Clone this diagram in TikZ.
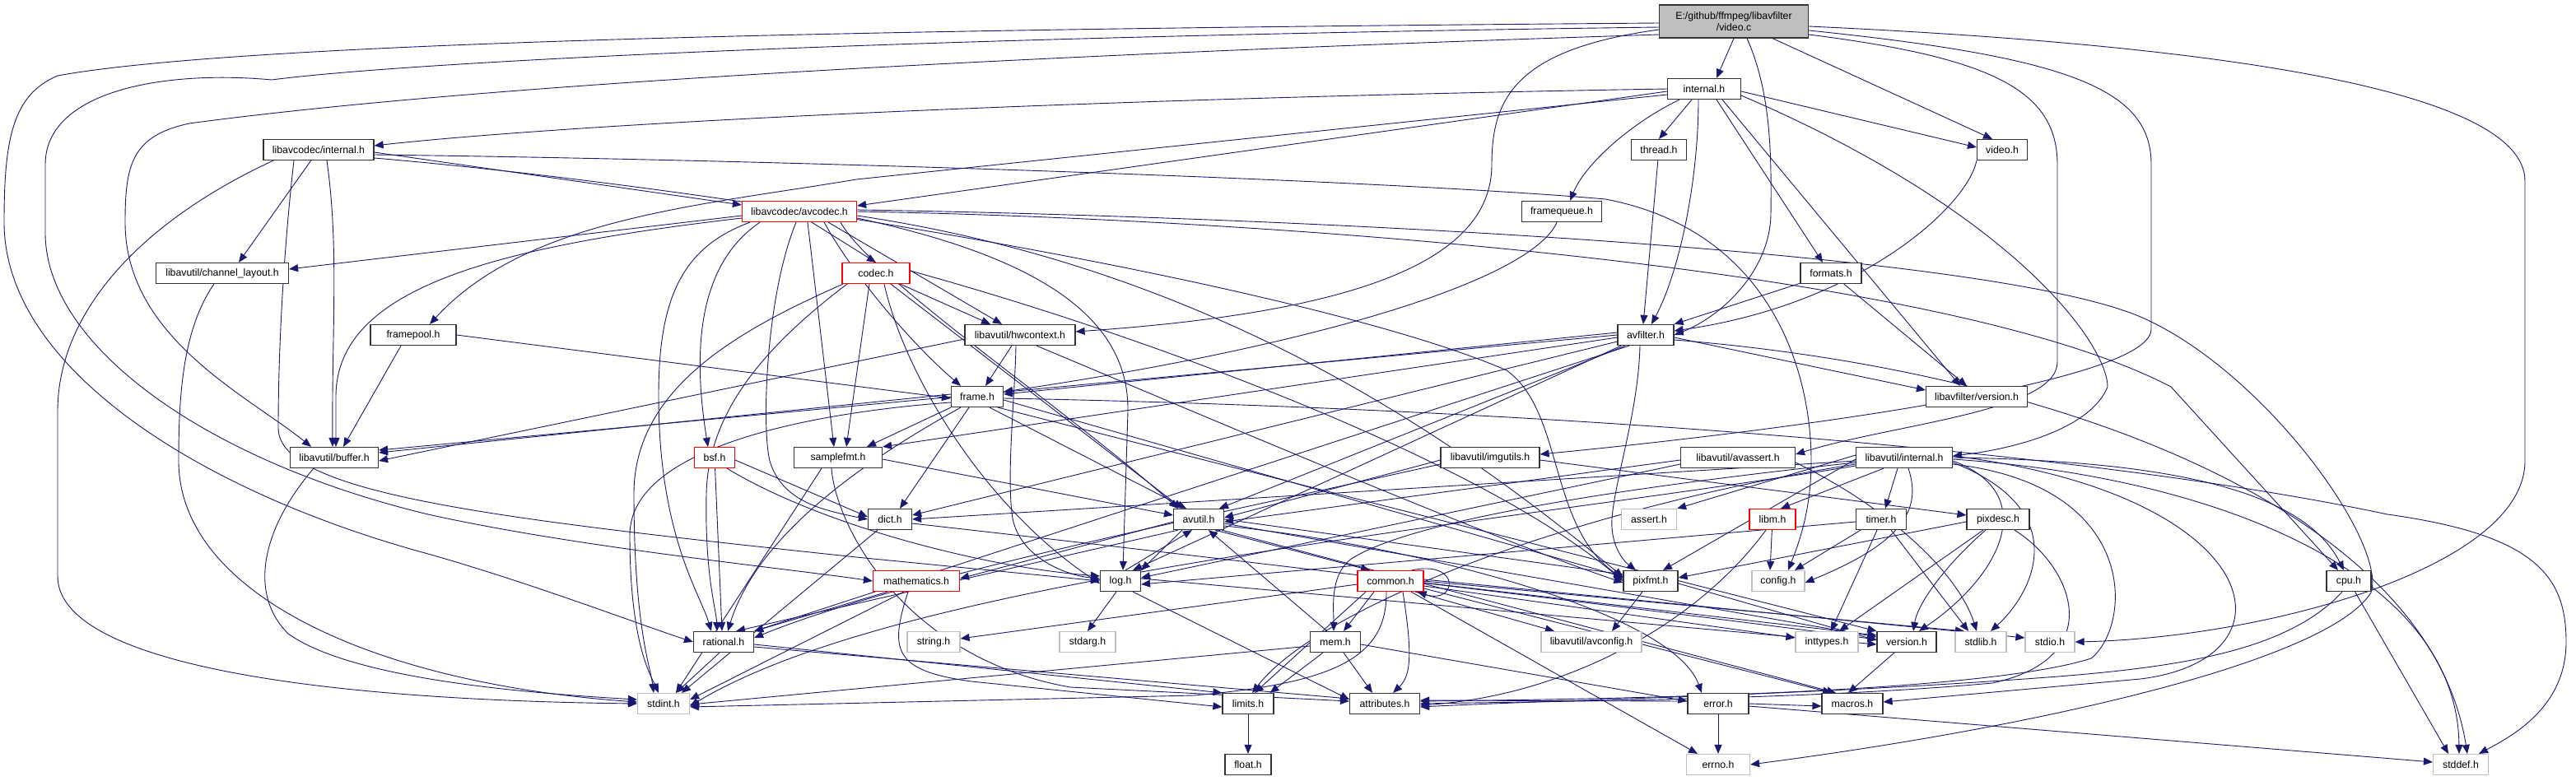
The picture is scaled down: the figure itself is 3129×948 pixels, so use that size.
\documentclass[tikz,border=0pt]{standalone}
\usepackage{fontspec}
\setmainfont{Liberation Sans}
\usetikzlibrary{arrows.meta}
\definecolor{edgec}{HTML}{191970}
\definecolor{grayb}{HTML}{BFBFBF}
\definecolor{redb}{HTML}{FF0000}
\definecolor{nodeb}{HTML}{333333}
\pgfdeclarelayer{bglayer}
\pgfdeclarelayer{edgelayer}
\pgfsetlayers{bglayer,edgelayer,main}
\tikzset{
  hdr/.style={draw=nodeb, line width=1.2pt, fill=white, minimum height=25pt, inner sep=0pt,
              font=\fontsize{12.3}{14}\selectfont, text=black},
  redn/.style={hdr, draw=redb},
  sysn/.style={hdr, draw=grayb},
  e/.style={draw=edgec, line width=0.9pt, -{Triangle[length=11pt,width=9pt]}},
}
\begin{document}
\begin{tikzpicture}[x=1pt,y=-1pt]
\useasboundingbox (0,0) rectangle (3129,948);
\begin{pgfonlayer}{bglayer}
\fill[white] (0,0) rectangle (3129,948);
\end{pgfonlayer}
% ---------- nodes ----------
\node[hdr, fill=grayb, minimum width=181pt, minimum height=40pt, align=center] (vc) at (2106,26) {E:/github/ffmpeg/libavfilter\\/video.c};
\node[hdr, minimum width=89pt] (inth) at (2070,108) {internal.h};
\node[hdr, minimum width=67pt] (thread) at (2015,182) {thread.h};
\node[hdr, minimum width=61pt] (video) at (2432,182) {video.h};
\node[hdr, minimum width=134pt] (lcint) at (387,182) {libavcodec/internal.h};
\node[hdr, minimum width=97pt] (fq) at (1897,257) {framequeue.h};
\node[redn, minimum width=139pt] (avcodec) at (971,257) {libavcodec/avcodec.h};
\node[hdr, minimum width=161pt] (chl) at (270,332) {libavutil/channel\_layout.h};
\node[redn, minimum width=82pt] (codec) at (1064,332) {codec.h};
\node[hdr, minimum width=74pt] (formats) at (2224,332) {formats.h};
\node[hdr, minimum width=104pt] (fpool) at (502,407) {framepool.h};
\node[hdr, minimum width=134pt] (hwctx) at (1239,407) {libavutil/hwcontext.h};
\node[hdr, minimum width=68pt] (avf) at (1999,407) {avfilter.h};
\node[hdr, minimum width=63pt] (frame) at (1187,482) {frame.h};
\node[hdr, minimum width=123pt] (lafver) at (2401,482) {libavfilter/version.h};
\node[hdr, minimum width=107pt] (buffer) at (406,556) {libavutil/buffer.h};
\node[redn, minimum width=49pt] (bsf) at (868,556) {bsf.h};
\node[hdr, minimum width=107pt] (sfmt) at (1018,556) {samplefmt.h};
\node[hdr, minimum width=120pt] (imgu) at (1810,556) {libavutil/imgutils.h};
\node[hdr, minimum width=139pt] (avassert) at (2111,556) {libavutil/avassert.h};
\node[hdr, minimum width=117pt] (luint) at (2313,556) {libavutil/internal.h};
\node[hdr, minimum width=53pt] (dict) at (1081,631) {dict.h};
\node[hdr, minimum width=61pt] (avutil) at (1456,631) {avutil.h};
\node[sysn, minimum width=67pt] (assert) at (2003,631) {assert.h};
\node[redn, minimum width=56pt] (libm) at (2153,631) {libm.h};
\node[hdr, minimum width=61pt] (timer) at (2285,631) {timer.h};
\node[hdr, minimum width=76pt] (pixdesc) at (2427,631) {pixdesc.h};
\node[redn, minimum width=105pt] (math) at (1113,706) {mathematics.h};
\node[hdr, minimum width=49pt] (log) at (1361,706) {log.h};
\node[redn, minimum width=80pt] (common) at (1689,706) {common.h};
\node[hdr, minimum width=66pt] (pixfmt) at (2005,706) {pixfmt.h};
\node[sysn, minimum width=64pt] (config) at (2160,706) {config.h};
\node[hdr, minimum width=54pt] (cpu) at (2853,706) {cpu.h};
\node[sysn, minimum width=64pt] (string) at (1134,780) {string.h};
\node[sysn, minimum width=68pt] (stdarg) at (1321,780) {stdarg.h};
\node[hdr, minimum width=73pt] (rational) at (879,780) {rational.h};
\node[hdr, minimum width=61pt] (mem) at (1622,780) {mem.h};
\node[sysn, minimum width=122pt] (avconfig) at (1933,780) {libavutil/avconfig.h};
\node[sysn, minimum width=76pt] (inttypes) at (2219,780) {inttypes.h};
\node[hdr, minimum width=72pt] (version) at (2316,780) {version.h};
\node[sysn, minimum width=62pt] (stdlib) at (2406,780) {stdlib.h};
\node[sysn, minimum width=60pt] (stdio) at (2490,780) {stdio.h};
\node[sysn, minimum width=63pt] (stdint) at (806,855) {stdint.h};
\node[hdr, minimum width=62pt] (limits) at (1516,855) {limits.h};
\node[hdr, minimum width=85pt] (attrib) at (1682,855) {attributes.h};
\node[hdr, minimum width=74pt] (error) at (2087,855) {error.h};
\node[hdr, minimum width=74pt] (macros) at (2250,855) {macros.h};
\node[hdr, minimum width=56pt] (float) at (1516,929) {float.h};
\node[sysn, minimum width=77pt] (errno) at (2087,929) {errno.h};
\node[sysn, minimum width=67pt] (stddef) at (2989,929) {stddef.h};
% ---------- edges ----------
\begin{pgfonlayer}{edgelayer}
% video.c
\draw[e] (vc.south) -- ([xshift=15pt]inth.north);
\draw[e] ([xshift=16pt]vc.south) .. controls (2150,110) and (2152,180) .. (2151,260) .. controls (2150,330) and (2090,385) .. ([yshift=0pt]avf.east);
\draw[e] ([xshift=47pt]vc.south) -- ([xshift=-12pt]video.north);
\draw[e] ([yshift=-10pt]vc.west) .. controls (1840,60) and (1812,120) .. (1812,200) .. controls (1812,320) and (1640,380) .. ([yshift=4pt]hwctx.east);
\draw[e] ([yshift=-16pt]vc.west) .. controls (1300,65) and (600,100) .. (230,150) .. controls (160,165) and (152,200) .. (152,270) .. controls (152,410) and (300,480) .. ([xshift=-28pt]buffer.north);
\draw[e] ([yshift=-2pt]vc.west) .. controls (1100,35) and (300,50) .. (70,92) .. controls (15,115) and (5,170) .. (5,270) .. controls (5,450) and (250,600) .. (520,673) .. controls (650,710) and (780,760) .. (rational.west);
\draw[e] ([yshift=-7pt]vc.west) .. controls (1100,45) and (500,75) .. (330,97) .. controls (200,85) and (55,110) .. (55,200) -- (55,283) .. controls (55,420) and (250,560) .. (520,625) .. controls (700,665) and (950,690) .. (math.west);
\draw[e] ([yshift=-6pt]vc.east) .. controls (2700,55) and (3067,110) .. (3067,220) -- (3067,560) .. controls (3067,690) and (2750,775) .. (stdio.east);
\draw[e] ([yshift=-16pt]vc.east) .. controls (2420,70) and (2499,110) .. (2499,200) -- (2499,440) .. controls (2499,500) and (2300,515) .. ([yshift=4pt]avassert.east);
\draw[e] ([yshift=-11pt]vc.east) .. controls (2520,70) and (2613,110) .. (2613,200) -- (2613,400) .. controls (2613,470) and (2100,530) .. ([yshift=4pt]imgu.east);
% internal.h
\draw[e] (inth.west) .. controls (1300,120) and (700,150) .. ([yshift=5pt]lcint.east);
\draw[e] ([yshift=-3pt]inth.west) -- ([yshift=7pt]avcodec.east);
\draw[e] ([yshift=-7pt]inth.west) -- (1040,218) .. controls (850,250) and (640,265) .. ([xshift=20pt]fpool.north);
\draw[e] ([xshift=-15pt]inth.south) -- (thread.north);
\draw[e] ([xshift=-30pt]inth.south) .. controls (1980,150) and (1925,200) .. ([xshift=10pt]fq.north);
\draw[e] ([xshift=-7pt]inth.south) .. controls (2063,220) and (2040,330) .. ([xshift=7pt]avf.north);
\draw[e] ([xshift=15pt]inth.south) -- ([xshift=-10pt]formats.north);
\draw[e] ([xshift=22pt]inth.south) -- ([xshift=-20pt]lafver.north);
\draw[e] ([yshift=-3pt]inth.east) -- ([yshift=3pt]video.west);
\draw[e] ([yshift=-8pt]inth.east) .. controls (2450,260) and (2560,420) .. (2560,470) .. controls (2540,520) and (2450,545) .. ([yshift=2pt]luint.east);
% libavcodec/internal.h
\draw[e] ([yshift=-3pt]lcint.east) -- ([yshift=8pt]avcodec.west);
\draw[e] (lcint) -- ([xshift=20pt]chl.north);
\draw[e] ([xshift=10pt]lcint.south) .. controls (412,300) and (403,400) .. ([xshift=-2pt]buffer.north);
\draw[e] ([xshift=-30pt]lcint.south) .. controls (345,300) and (338,420) .. (338,520) .. controls (338,600) and (600,630) .. (1040,677) -- (log.west);
\draw[e] ([xshift=-55pt]lcint.south) .. controls (170,270) and (70,380) .. (70,500) -- (70,700) .. controls (70,800) and (350,850) .. (stdint.west);
\draw[e] ([yshift=-6pt]lcint.east) .. controls (1000,195) and (1700,220) .. (1950,242) .. controls (2150,280) and (2200,450) .. (2200,560) .. controls (2200,620) and (2185,660) .. ([xshift=12pt]config.north);
\draw[e] ([yshift=-10pt]lcint.east) .. controls (900,230) and (1600,350) .. (1830,450) .. controls (1900,500) and (1880,640) .. ([yshift=3pt]pixfmt.west);
% avcodec.h
\draw[e] ([yshift=-5pt]avcodec.west) -- ([yshift=5pt]chl.east);
\draw[e] ([xshift=15pt]avcodec.south) -- (codec.north);
\draw[e] ([xshift=35pt]avcodec.south) -- ([xshift=-22pt]hwctx.north);
\draw[e] ([xshift=30pt]avcodec.south) .. controls (1040,340) and (1110,420) .. ([xshift=-20pt]frame.north);
\draw[e] ([yshift=-8pt]avcodec.west) .. controls (600,300) and (410,350) .. (408,480) -- ([xshift=2pt]buffer.north);
\draw[e] ([xshift=-48pt]avcodec.south) .. controls (850,320) and (840,420) .. ([xshift=-8pt]bsf.north);
\draw[e] ([xshift=-4pt]avcodec.south) .. controls (930,360) and (925,520) .. (935,560) .. controls (950,610) and (1000,620) .. (dict.west);
\draw[e] ([xshift=-60pt]avcodec.south) .. controls (830,300) and (800,360) .. (800,480) .. controls (800,650) and (850,720) .. ([xshift=-15pt]rational.north);
\draw[e] ([xshift=10pt]avcodec.south) -- ([xshift=-5pt]sfmt.north);
\draw[e] ([xshift=50pt]avcodec.south) .. controls (1060,340) and (1300,500) .. ([xshift=-25pt]avutil.north);
\draw[e] ([yshift=-8pt]avcodec.east) .. controls (1250,310) and (1372,380) .. (1370,500) -- ([xshift=3pt]log.north);
\draw[e] ([yshift=-5pt]avcodec.east) .. controls (1500,330) and (1800,560) .. ([yshift=5pt]pixfmt.west);
\draw[e] ([yshift=2pt]avcodec.east) .. controls (1500,262) and (2400,300) .. (2600,385) .. controls (2750,450) and (2900,660) .. (2880,720) .. controls (2830,800) and (2500,880) .. (errno.east);
\draw[e] (avcodec.east) .. controls (1500,265) and (2350,320) .. (2637,470) -- ([xshift=-13pt]cpu.north);
% codec.h
\draw[e] (codec) -- ([xshift=-36pt]hwctx.north);
\draw[e] ([xshift=-8pt]codec.south) -- ([xshift=10pt]sfmt.north);
\draw[e] ([xshift=10pt]codec.south) .. controls (1100,460) and (1200,620) .. ([yshift=-3pt]log.west);
\draw[e] ([xshift=18pt]codec.south) -- ([xshift=-20pt]avutil.north);
\draw[e] ([yshift=3pt]codec.east) .. controls (1400,410) and (1800,560) .. (pixfmt.west);
\draw[e] ([xshift=-40pt]codec.south) .. controls (900,400) and (770,470) .. (770,600) .. controls (770,760) and (790,810) .. ([xshift=-12pt]stdint.north);
\draw[e] ([xshift=-35pt]codec.south) .. controls (930,420) and (860,500) .. (858,600) .. controls (856,700) and (870,740) .. ([xshift=-8pt]rational.north);
% hwcontext.h
\draw[e] ([xshift=-10pt]hwctx.south) -- ([xshift=10pt]frame.north);
\draw[e] ([xshift=-5pt]hwctx.south) .. controls (1233,480) and (1222,580) .. (1230,630) .. controls (1240,680) and (1300,700) .. ([yshift=3pt]log.west);
\draw[e] ([yshift=-5pt]hwctx.west) -- ([yshift=-4pt]buffer.east);
\draw[e] ([xshift=20pt]hwctx.south) .. controls (1450,500) and (1800,650) .. ([yshift=-2pt]pixfmt.west);
% frame.h
\draw[e] ([yshift=-2pt]frame.east) .. controls (1800,495) and (2500,540) .. (2900,625) .. controls (3080,650) and (3117,700) .. (3117,780) .. controls (3117,860) and (3050,895) .. ([xshift=22pt]stddef.north);
\draw[e] ([yshift=-7pt]frame.west) .. controls (1000,500) and (765,540) .. (765,650) .. controls (765,780) and (790,820) .. ([xshift=-6pt]stdint.north);
\draw[e] ([xshift=15pt]frame.south) -- ([xshift=-15pt]avutil.north);
\draw[e] ([yshift=3pt]frame.west) -- ([yshift=6pt]buffer.east);
\draw[e] ([xshift=-10pt]frame.south) -- ([xshift=12pt]dict.north);
\draw[e] ([xshift=-20pt]frame.south) .. controls (1050,560) and (920,650) .. ([xshift=5pt]rational.north);
\draw[e] (frame.south west) -- ([xshift=35pt]sfmt.north);
\draw[e] ([yshift=-4pt]frame.east) -- ([yshift=5pt]pixfmt.west);
\draw[e] ([xshift=25pt]frame.south) -- (version.north west);
% avfilter.h
\draw[e] ([yshift=-3pt]avf.east) -- ([yshift=8pt]lafver.west);
\draw[e] ([yshift=3pt]avf.west) -- ([yshift=3pt]frame.east);
\draw[e] (avf.west) -- ([yshift=9pt]buffer.east);
\draw[e] ([yshift=-3pt]avf.west) -- (sfmt.north east);
\draw[e] ([yshift=-8pt]avf.west) -- ([yshift=5pt]dict.east);
\draw[e] ([xshift=-25pt]avf.south) -- ([xshift=25pt]avutil.north);
\draw[e] ([xshift=-30pt]avf.south) -- ([xshift=15pt]log.north);
\draw[e] ([xshift=-7pt]avf.south) .. controls (1990,500) and (1962,580) .. (1958,630) .. controls (1956,660) and (1970,680) .. ([xshift=-18pt]pixfmt.north);
\draw[e] ([xshift=-20pt]avf.south) -- (rational.north east);
\draw[e] ([yshift=-6pt]avf.east) .. controls (2500,450) and (2950,620) .. ([xshift=8pt]stddef.north);
% video.h, formats.h, thread.h, framequeue.h, framepool.h
\draw[e] (video.south west) .. controls (2390,250) and (2260,370) .. ([yshift=5pt]avf.east);
\draw[e] (formats) -- (avf.north east);
\draw[e] (formats) -- ([xshift=-12pt]lafver.north);
\draw[e] (thread) -- ([xshift=-3pt]avf.north);
\draw[e] (fq) .. controls (1860,340) and (1600,420) .. ([yshift=6pt]frame.east);
\draw[e] ([xshift=-15pt]fpool.south) -- ([xshift=11pt]buffer.north);
\draw[e] (fpool.east) -- ([yshift=-2pt]frame.west);
% channel_layout, buffer, bsf, samplefmt, dict
\draw[e] ([xshift=-10pt]chl.south) .. controls (222,400) and (217,480) .. (217,560) .. controls (217,720) and (450,830) .. ([yshift=2pt]stdint.west);
\draw[e] ([xshift=-25pt]buffer.south) .. controls (320,640) and (300,720) .. (350,770) .. controls (420,820) and (600,840) .. ([yshift=5pt]stdint.west);
\draw[e] ([yshift=-3pt]bsf.east) -- ([yshift=3pt]dict.west);
\draw[e] (bsf) -- ([xshift=-2pt]rational.north);
\draw[e] ([xshift=15pt]bsf.south) .. controls (1000,640) and (1200,690) .. ([yshift=6pt]log.west);
\draw[e] ([xshift=-20pt]sfmt.south) -- ([xshift=15pt]stdint.north);
\draw[e] ([yshift=-2pt]sfmt.east) -- ([yshift=5pt]avutil.west);
\draw[e] ([xshift=-8pt]sfmt.south) .. controls (1015,640) and (1100,800) .. (1300,835) -- ([yshift=3pt]attrib.west);
\draw[e] ([xshift=-15pt]dict.south) -- ([xshift=22pt]stdint.north);
\draw[e] ([yshift=-5pt]dict.east) .. controls (1500,680) and (2000,740) .. ([yshift=3pt]version.west);
% imgutils, avassert
\draw[e] ([yshift=-3pt]imgu.west) -- ([yshift=2pt]avutil.east);
\draw[e] ([yshift=-3pt]imgu.east) -- ([yshift=5pt]pixdesc.west);
\draw[e] ([yshift=-8pt]imgu.west) .. controls (1500,620) and (1100,700) .. ([yshift=5pt]rational.east);
\draw[e] ([yshift=-3pt]avassert.west) -- ([yshift=-3pt]avutil.east);
\draw[e] ([yshift=-8pt]avassert.west) -- ([yshift=4pt]log.east);
\draw[e] ([yshift=-6pt]avassert.east) .. controls (2300,620) and (2380,700) .. ([xshift=-5pt]stdlib.north);
% libavutil/internal.h
\draw[e] ([yshift=3pt]luint.west) -- (assert.north east);
\draw[e] ([xshift=-25pt]luint.south) -- ([xshift=10pt]libm.north);
\draw[e] ([xshift=-8pt]luint.south) -- ([xshift=5pt]timer.north);
\draw[e] ([xshift=5pt]luint.south) .. controls (2335,620) and (2310,660) .. ([yshift=-2pt]config.east);
\draw[e] ([yshift=-4pt]luint.east) .. controls (2480,600) and (2430,700) .. ([xshift=15pt]version.north);
\draw[e] ([yshift=-6pt]luint.east) .. controls (2520,620) and (2470,720) .. ([xshift=12pt]stdlib.north);
\draw[e] ([yshift=-2pt]luint.east) .. controls (2700,580) and (2985,700) .. ([xshift=-2pt]stddef.north);
\draw[e] (luint.east) .. controls (2650,560) and (2800,600) .. ([xshift=-6pt]cpu.north);
\draw[e] ([yshift=-8pt]luint.east) .. controls (2600,590) and (2590,760) .. (2540,800) .. controls (2400,845) and (1900,850) .. ([yshift=3pt]attrib.east);
\draw[e] ([yshift=2pt]luint.east) .. controls (2750,600) and (2800,800) .. (2600,825) -- ([yshift=2pt]macros.east);
\draw[e] ([yshift=-4pt]luint.west) -- (dict.east);
\draw[e] ([yshift=-6pt]luint.west) .. controls (1900,600) and (1700,640) .. (1640,680) .. controls (1615,700) and (1620,740) .. ([xshift=-2pt]mem.north);
\draw[e] ([yshift=-8pt]luint.west) .. controls (1900,620) and (1600,740) .. ([xshift=5pt]limits.north);
\draw[e] ([yshift=-10pt]luint.west) .. controls (1800,640) and (1100,700) .. ([yshift=-3pt]stdint.east);
\draw[e] ([yshift=-2pt]luint.west) -- ([xshift=15pt]pixfmt.north);
% libm, timer, pixdesc
\draw[e] (libm) -- ([xshift=-10pt]config.north);
\draw[e] ([xshift=-8pt]libm.south) .. controls (2060,760) and (1900,845) .. ([yshift=-2pt]attrib.east);
\draw[e] ([xshift=-25pt]timer.south) -- ([xshift=20pt]config.north);
\draw[e] ([xshift=-5pt]timer.south) -- ([xshift=5pt]inttypes.north);
\draw[e] ([xshift=12pt]timer.south) -- ([xshift=-15pt]stdlib.north);
\draw[e] ([yshift=-3pt]timer.west) -- ([yshift=-4pt]log.east);
\draw[e] ([yshift=-3pt]pixdesc.west) -- ([yshift=4pt]pixfmt.east);
\draw[e] ([xshift=-15pt]pixdesc.south) .. controls (2370,680) and (2330,730) .. ([xshift=8pt]version.north);
\draw[e] ([xshift=-18pt]pixdesc.south) -- ([xshift=15pt]inttypes.north);
\draw[e] ([xshift=20pt]pixdesc.south) .. controls (2520,690) and (2560,800) .. (2420,830) .. controls (2200,850) and (1900,852) .. (attrib.east);
% avutil.h
\draw[e] ([xshift=20pt]avutil.south) -- ([xshift=-25pt]common.north);
\draw[e] ([yshift=-8pt]avutil.east) .. controls (1700,660) and (2030,740) .. ([xshift=-20pt]error.north);
\draw[e] ([xshift=-25pt]avutil.south) -- ([xshift=15pt]rational.north);
\draw[e] ([yshift=-5pt]avutil.east) -- ([yshift=6pt]version.west);
\draw[e] ([xshift=28pt]avutil.south) -- ([xshift=-20pt]macros.north);
\draw[e] ([yshift=-3pt]avutil.west) -- ([yshift=3pt]math.east);
\draw[e] ([xshift=-20pt]avutil.south) -- (log.north east);
\draw[e] (avutil.east) -- ([yshift=8pt]pixfmt.west);
% log.h
\draw[e] ([xshift=6pt]log.north) -- ([xshift=-8pt]avutil.south);
\draw[e] ([xshift=-5pt]log.south) -- (stdarg.north);
\draw[e] ([xshift=15pt]log.south) -- ([yshift=5pt]attrib.west);
\draw[e] ([yshift=3pt]log.east) -- ([yshift=-3pt]version.west);
% mathematics.h
\draw[e] ([xshift=-35pt]math.south) -- (rational.north east);
\draw[e] ([xshift=-15pt]math.south) -- ([yshift=5pt]stdint.east);
\draw[e] ([xshift=-10pt]math.south) .. controls (1080,790) and (1085,815) .. (1180,828) -- ([yshift=-4pt]limits.west);
% rational.h
\draw[e] ([xshift=-5pt]rational.south) -- ([xshift=15pt]stdint.north);
\draw[e] ([yshift=-3pt]rational.east) -- (limits.north west);
\draw[e] ([yshift=-6pt]rational.east) -- ([yshift=6pt]attrib.west);
% common.h
\draw[e] ([xshift=-20pt]common.south) -- ([xshift=10pt]mem.north);
\draw[e] ([xshift=15pt]common.south) .. controls (1715,790) and (1715,820) .. ([xshift=10pt]attrib.north);
\draw[e] ([xshift=-5pt]common.south) .. controls (1685,800) and (1620,830) .. (1450,845) -- ([yshift=-4pt]stdint.east);
\draw[e] ([xshift=-30pt]common.south) -- ([xshift=8pt]limits.north);
\draw[e] ([yshift=-4pt]common.west) -- ([yshift=4pt]string.east);
\draw[e] ([yshift=-6pt]common.east) -- ([yshift=5pt]inttypes.west);
\draw[e] ([yshift=-2pt]common.east) -- ([yshift=8pt]version.west);
\draw[e] ([yshift=2pt]common.east) -- ([yshift=5pt]stdio.west);
\draw[e] (common.east) -- ([xshift=-20pt]stdlib.north);
\draw[e] ([xshift=25pt]common.south) -- ([xshift=-25pt]errno.north);
\draw[e] ([xshift=30pt]common.south) -- ([xshift=-45pt]avconfig.north);
\draw[e] ([yshift=-9pt]common.east) -- ([xshift=-25pt]macros.north);
\draw[e] ([xshift=-15pt]common.north east) .. controls (1775,680) and (1770,735) .. ([xshift=-8pt]common.south east);
% mem.h
\draw[e] ([yshift=-5pt]mem.west) -- ([yshift=-1pt]stdint.east);
\draw[e] ([xshift=-15pt]mem.south) -- ([xshift=-5pt]limits.north east);
\draw[e] ([xshift=10pt]mem.south) -- ([xshift=-15pt]attrib.north);
\draw[e] ([yshift=-3pt]mem.east) -- ([yshift=3pt]error.west);
\draw[e] ([xshift=-10pt]mem.north) -- ([xshift=12pt]avutil.south);
% pixfmt.h
\draw[e] ([xshift=-10pt]pixfmt.south) -- ([xshift=25pt]avconfig.north);
\draw[e] ([yshift=-3pt]pixfmt.east) -- ([yshift=2pt]version.west);
% error.h, version.h, limits.h, cpu.h
\draw[e] (error) -- (errno);
\draw[e] ([yshift=-3pt]error.east) -- ([yshift=3pt]stddef.west);
\draw[e] ([yshift=3pt]error.west) -- ([yshift=4pt]attrib.east);
\draw[e] (error.east) -- ([yshift=-3pt]macros.west);
\draw[e] (version) -- ([xshift=-5pt]macros.north);
\draw[e] (limits) -- (float);
\draw[e] (cpu) -- ([xshift=-15pt]stddef.north);
\draw[e] ([xshift=-8pt]cpu.south) .. controls (2780,790) and (2650,810) .. (2500,822) .. controls (2200,845) and (1900,850) .. ([yshift=-4pt]attrib.east);
\end{pgfonlayer}
\end{tikzpicture}
\end{document}
